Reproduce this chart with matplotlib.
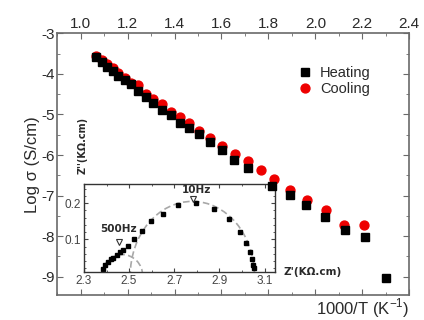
import numpy as np
import matplotlib
matplotlib.use("Agg")
import matplotlib.pyplot as plt
from matplotlib.patches import Arc
from matplotlib.ticker import MultipleLocator

plt.rcParams['font.family'] = ['Liberation Sans', 'DejaVu Sans']
plt.rcParams['axes.unicode_minus'] = False

# ---- main data: log conductivity vs 1000/T ----
heat_x = [1.064, 1.090, 1.111, 1.137, 1.160, 1.189, 1.215, 1.246, 1.277, 1.310,
          1.346, 1.384, 1.424, 1.462, 1.506, 1.552, 1.602, 1.652, 1.715, 1.815,
          1.890, 1.962, 2.043, 2.125, 2.210, 2.303]
heat_y = [-3.59, -3.70, -3.82, -3.92, -4.05, -4.15, -4.24, -4.41, -4.58, -4.72,
          -4.89, -5.01, -5.22, -5.33, -5.48, -5.69, -5.87, -6.12, -6.33, -6.76,
          -6.98, -7.22, -7.53, -7.84, -8.01, -9.03]
cool_x = [1.064, 1.090, 1.111, 1.137, 1.160, 1.189, 1.215, 1.246, 1.277, 1.310,
          1.346, 1.384, 1.424, 1.462, 1.506, 1.552, 1.602, 1.659, 1.711, 1.770,
          1.826, 1.890, 1.965, 2.047, 2.121, 2.206]
cool_y = [-3.56, -3.66, -3.76, -3.86, -3.99, -4.11, -4.23, -4.28, -4.50, -4.63,
          -4.74, -4.93, -5.07, -5.22, -5.40, -5.59, -5.77, -5.97, -6.14, -6.37,
          -6.60, -6.86, -7.11, -7.35, -7.73, -7.72]

# ---- inset: impedance spectrum ----
zre = [2.383, 2.393, 2.405, 2.419, 2.430, 2.445, 2.460, 2.475, 2.497, 2.522,
       2.556, 2.596, 2.650, 2.715, 2.798, 2.875, 2.941, 2.989, 3.016, 3.035,
       3.045, 3.050, 3.052]
zim = [0.018, 0.029, 0.038, 0.045, 0.050, 0.057, 0.064, 0.070, 0.082, 0.100,
       0.123, 0.150, 0.170, 0.195, 0.201, 0.185, 0.157, 0.121, 0.091, 0.065,
       0.045, 0.029, 0.022]
ins_xticks = [2.3, 2.5, 2.7, 2.9, 3.1]
ins_yticks = [0.1, 0.2]
# fitted arcs: (centre Z', half width, height)
arc_big = (2.78, 0.275, 0.205)
arc_small = (2.47, 0.09, 0.058)
freq_labels = ["500Hz", "10Hz"]
freq_x = [2.456, 2.783]
freq_y = [0.093, 0.212]

spine_c = '#6a6a6a'
text_c = '#2a2a2a'

fig = plt.figure(figsize=(4.24, 3.2), dpi=100)
ax = fig.add_axes([0.135, 0.078, 0.830, 0.818])
ax.patch.set_visible(False)

ax.plot(heat_x, heat_y, 's', color='black', ms=5.4, label='Heating', zorder=3)
ax.plot(cool_x, cool_y, 'o', color='#ee0000', ms=6.4, label='Cooling', zorder=2)

ax.set_xlim(0.9, 2.4)
ax.set_ylim(-9.45, -3)
ax.xaxis.set_major_locator(MultipleLocator(0.2))
ax.xaxis.set_minor_locator(MultipleLocator(0.1))
ax.yaxis.set_major_locator(MultipleLocator(1))
ax.yaxis.set_minor_locator(MultipleLocator(0.5))
ax.xaxis.tick_top()
ax.tick_params(which='both', direction='in', top=True, bottom=True, left=True, right=True,
               labelbottom=False, labeltop=True, color=spine_c, labelsize=11,
               labelcolor=text_c, pad=2)
ax.tick_params(which='major', length=4)
ax.tick_params(which='minor', length=2)
for s in ax.spines.values():
    s.set_color(spine_c)
    s.set_linewidth(1.2)

ax.set_ylabel(r'Log σ (S/cm)', fontsize=12, color=text_c, labelpad=1)
fig.text(0.855, 0.038, r'1000/T (K$^{\mathregular{-1}}$)', fontsize=12, color=text_c,
         ha='center', va='center')

ax.legend(loc='upper left', bbox_to_anchor=(0.684, 0.875), frameon=False, fontsize=10.5,
          handlelength=1.0, handletextpad=0.5, labelspacing=0.15, borderpad=0,
          borderaxespad=0, labelcolor=text_c)

# ---- inset ----
ins = fig.add_axes([0.198, 0.15, 0.450, 0.275])
ins.set_zorder(-1)
ins.plot(zre, zim, 's', color='black', ms=2.6)
for xc, a, b in (arc_big, arc_small):
    ins.add_patch(Arc((xc, 0.0), 2 * a, 2 * b, theta1=0, theta2=180,
                      color='#a8a8a8', lw=1.2, ls=(0, (4, 2))))
ins.plot(freq_x, freq_y, 'v', mfc='white', mec='#333333', ms=5, mew=0.8)
ins.text(freq_x[0] - 0.005, freq_y[0] + 0.022, freq_labels[0], fontsize=7.5,
         fontweight='bold', family='DejaVu Sans', color=text_c, ha='center', va='bottom')
ins.text(freq_x[1] + 0.015, freq_y[1] + 0.012, freq_labels[1], fontsize=7.5,
         fontweight='bold', family='DejaVu Sans', color=text_c, ha='center', va='bottom')

ins.set_xlim(2.3, 3.145)
ins.set_ylim(0.01, 0.253)
ins.set_xticks(ins_xticks)
ins.set_yticks(ins_yticks)
ins.xaxis.set_minor_locator(MultipleLocator(0.1))
ins.yaxis.set_minor_locator(MultipleLocator(0.02))
ins.tick_params(which='both', direction='in', top=True, right=True, color='#444444',
                labelsize=8.5, labelcolor='#444444', pad=2)
ins.tick_params(which='major', length=3)
ins.tick_params(which='minor', length=1.5)
for s in ins.spines.values():
    s.set_color('#333333')
    s.set_linewidth(1.0)

fig.text(0.196, 0.545, "Z''(KΩ.cm)", rotation=90, fontsize=7, fontweight='bold',
         family='DejaVu Sans', color=text_c, ha='center', va='center')
fig.text(0.738, 0.15, "Z'(KΩ.cm)", fontsize=7.5, fontweight='bold',
         family='DejaVu Sans', color=text_c, ha='center', va='center')

fig.savefig('out.png', dpi=100)
